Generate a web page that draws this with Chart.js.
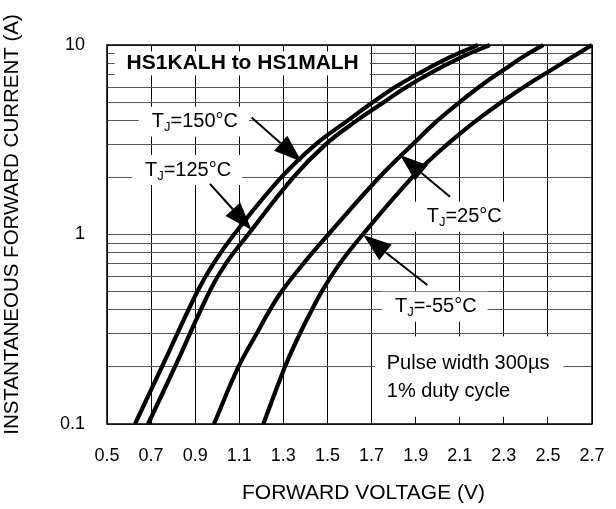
<!DOCTYPE html>
<html>
<head>
<meta charset="utf-8">
<script src="https://cdn.jsdelivr.net/npm/chart.js@4/dist/chart.umd.min.js"></script>
<style>
  html, body { margin: 0; padding: 0; background: #fff; }
  #wrap { width: 616px; height: 509px; position: relative; }
</style>
</head>
<body>
<div id="wrap"><canvas id="chart"></canvas></div>
<script>
// tick values
const xTicks = [0.5, 0.7, 0.9, 1.1, 1.3, 1.5, 1.7, 1.9, 2.1, 2.3, 2.5, 2.7];
const yTicks = [0.1, 0.2, 0.3, 0.4, 0.5, 0.6, 0.7, 0.8, 0.9, 1, 2, 3, 4, 5, 6, 7, 8, 9, 10];
const yLabels = [0.1, 1, 10];

// currents shared by the two hot curves (A)
const ampHot = [0.1, 0.2, 0.5, 0.7, 1, 2, 3, 4, 5, 5.9, 7.14, 8.63, 10];
// Tj = 150C
const volt150 = [0.627, 0.749, 0.910, 0.982, 1.076, 1.290, 1.448, 1.593, 1.707, 1.797, 1.920, 2.056, 2.183];
// Tj = 125C
const volt125 = [0.686, 0.808, 0.965, 1.038, 1.140, 1.345, 1.493, 1.634, 1.757, 1.848, 1.970, 2.108, 2.236];
// Tj = 25C
const volt25 = [0.985, 1.096, 1.179, 1.239, 1.292, 1.39, 1.504, 1.734, 1.90, 2.0, 2.1, 2.2, 2.3, 2.4, 2.479];
const amp25  = [0.1, 0.2, 0.3, 0.4, 0.5, 0.7, 1, 2, 3.1, 4.0, 5.0, 6.15, 7.4, 8.85, 10];
// Tj = -55C
const voltM55 = [1.209, 1.307, 1.375, 1.429, 1.474, 1.555, 1.66, 1.884, 2.0, 2.1, 2.2, 2.3, 2.4, 2.5, 2.6, 2.7];
const ampM55  = [0.1, 0.2, 0.3, 0.4, 0.5, 0.7, 1, 2, 2.7, 3.4, 4.2, 5.1, 6.1, 7.2, 8.5, 10];

// curve labels: text anchor (left, middle) and arrow from -> tip, in data units
const curveNotes = [
  { sub: '150', x: 0.703, y: 3.94, from: [1.156, 4.15], tip: [1.383, 2.42] },
  { sub: '125', x: 0.672, y: 2.19, from: [0.967, 1.85], tip: [1.156, 1.056] },
  { sub: '25',  x: 1.950, y: 1.24, from: [2.056, 1.58], tip: [1.829, 2.63] },
  { sub: '-55', x: 1.806, y: 0.416, from: [1.953, 0.541], tip: [1.663, 0.994] }
];
const partTitle = { text: 'HS1KALH to HS1MALH', x: 0.589, y: 8.0 };
const pulseNote = { lines: ['Pulse width 300\u00b5s', '1% duty cycle'], x: 1.769, y: [0.209, 0.148] };
const xTitle = 'FORWARD VOLTAGE (V)';
const yTitle = 'INSTANTANEOUS FORWARD CURRENT (A)';

const FONT = '"Liberation Sans", Arial, Helvetica, sans-serif';
const NOTE = '20px ' + FONT;
const SUB = '13px ' + FONT;

function pts(xs, ys) { return xs.map((x, i) => ({ x: x, y: ys[i] })); }

function curve(xs, ys) {
  return {
    data: pts(xs, ys),
    borderColor: '#000',
    borderWidth: 4.2,
    pointRadius: 0,
    fill: false,
    tension: 0.4,
    clip: 3
  };
}

function labelWidth(ctx, n) {
  ctx.font = NOTE;
  let w = ctx.measureText('T').width;
  ctx.font = SUB;
  w += ctx.measureText('J').width;
  ctx.font = NOTE;
  w += ctx.measureText('=' + n.sub + '\u00b0C').width;
  return w;
}

function whiteBox(ctx, x, y, w, h) {
  ctx.fillStyle = '#fff';
  ctx.fillRect(x, y, w, h);
}

function arrow(ctx, x1, y1, x2, y2) {
  const ang = Math.atan2(y2 - y1, x2 - x1);
  const len = 28, half = 10;
  const bx = x2 - len * Math.cos(ang), by = y2 - len * Math.sin(ang);
  ctx.strokeStyle = '#000';
  ctx.lineWidth = 2;
  ctx.beginPath();
  ctx.moveTo(x1, y1);
  ctx.lineTo(bx, by);
  ctx.stroke();
  ctx.fillStyle = '#000';
  ctx.beginPath();
  ctx.moveTo(x2, y2);
  ctx.lineTo(bx + half * Math.sin(ang), by - half * Math.cos(ang));
  ctx.lineTo(bx - half * Math.sin(ang), by + half * Math.cos(ang));
  ctx.closePath();
  ctx.fill();
}

const notesPlugin = {
  id: 'notes',
  beforeDatasetsDraw(chart) {
    const { ctx, scales: { x, y } } = chart;
    ctx.save();
    // boxes that hide the grid behind the texts
    ctx.font = 'bold 21px ' + FONT;
    const tw = ctx.measureText(partTitle.text).width;
    whiteBox(ctx, x.getPixelForValue(partTitle.x) - 12, y.getPixelForValue(partTitle.y) - 12, tw + 23, 24);
    curveNotes.forEach(n => {
      const px = x.getPixelForValue(n.x), py = y.getPixelForValue(n.y);
      whiteBox(ctx, px - 13, py - 15, labelWidth(ctx, n) + 24, 30);
    });
    ctx.font = NOTE;
    const pw = Math.max(...pulseNote.lines.map(t => ctx.measureText(t).width));
    const py0 = y.getPixelForValue(pulseNote.y[0]), py1 = y.getPixelForValue(pulseNote.y[1]);
    whiteBox(ctx, x.getPixelForValue(pulseNote.x) - 12, py0 - 27, pw + 26, py1 - py0 + 52);
    ctx.restore();
  },
  afterDatasetsDraw(chart) {
    const { ctx, chartArea: a, scales: { x, y } } = chart;
    ctx.save();
    ctx.fillStyle = '#000';
    ctx.textBaseline = 'middle';
    ctx.textAlign = 'left';
    ctx.font = 'bold 21px ' + FONT;
    ctx.fillText(partTitle.text, x.getPixelForValue(partTitle.x), y.getPixelForValue(partTitle.y));

    curveNotes.forEach(n => {
      let px = x.getPixelForValue(n.x);
      const py = y.getPixelForValue(n.y);
      ctx.fillStyle = '#000';
      ctx.font = NOTE;
      ctx.fillText('T', px, py);
      px += ctx.measureText('T').width;
      ctx.font = SUB;
      ctx.fillText('J', px, py + 6);
      px += ctx.measureText('J').width;
      ctx.font = NOTE;
      ctx.fillText('=' + n.sub + '\u00b0C', px, py);
      arrow(ctx, x.getPixelForValue(n.from[0]), y.getPixelForValue(n.from[1]),
                 x.getPixelForValue(n.tip[0]), y.getPixelForValue(n.tip[1]));
    });

    ctx.fillStyle = '#000';
    ctx.font = NOTE;
    pulseNote.lines.forEach((t, i) => {
      ctx.fillText(t, x.getPixelForValue(pulseNote.x), y.getPixelForValue(pulseNote.y[i]));
    });

    // frame
    ctx.strokeStyle = '#000';
    ctx.lineWidth = 1.5;
    ctx.strokeRect(a.left, a.top, a.right - a.left, a.bottom - a.top);

    // axis titles
    ctx.textAlign = 'center';
    ctx.font = '21px ' + FONT;
    ctx.fillText(xTitle, (a.left + a.right) / 2 + 14, 493);
    ctx.translate(12, (a.top + a.bottom) / 2 - 10);
    ctx.rotate(-Math.PI / 2);
    ctx.font = '20.5px ' + FONT;
    ctx.fillText(yTitle, 0, 0);
    ctx.restore();
  }
};

new Chart(document.getElementById('chart'), {
  type: 'line',
  data: {
    datasets: [
      curve(volt150, ampHot),
      curve(volt125, ampHot),
      curve(volt25, amp25),
      curve(voltM55, ampM55)
    ]
  },
  options: {
    responsive: true,
    maintainAspectRatio: false,
    animation: false,
    events: [],
    layout: { padding: { left: 0, right: 24, top: 45, bottom: 0 } },
    plugins: { legend: { display: false }, tooltip: { enabled: false } },
    scales: {
      x: {
        type: 'linear',
        min: 0.5,
        max: 2.7,
        afterBuildTicks: s => { s.ticks = xTicks.map(v => ({ value: v })); },
        afterFit: s => { s.height = 85; s.paddingLeft = 0; s.paddingRight = 0; },
        grid: { color: '#000', lineWidth: 1, drawTicks: false },
        border: { display: false },
        ticks: {
          autoSkip: false, maxRotation: 0, padding: 21, color: '#000',
          font: { size: 18, family: FONT },
          callback: v => Number(v).toFixed(1)
        }
      },
      y: {
        type: 'logarithmic',
        min: 0.1,
        max: 10,
        afterBuildTicks: s => { s.ticks = yTicks.map(v => ({ value: v })); },
        afterFit: s => { s.width = 107; s.paddingTop = 0; s.paddingBottom = 0; },
        grid: { color: '#555', lineWidth: 1, drawTicks: false },
        border: { display: false },
        ticks: {
          autoSkip: false, padding: 22, color: '#000',
          font: { size: 18, family: FONT },
          callback: v => yLabels.includes(v) ? String(v) : ''
        }
      }
    }
  },
  plugins: [notesPlugin]
});
</script>
</body>
</html>
